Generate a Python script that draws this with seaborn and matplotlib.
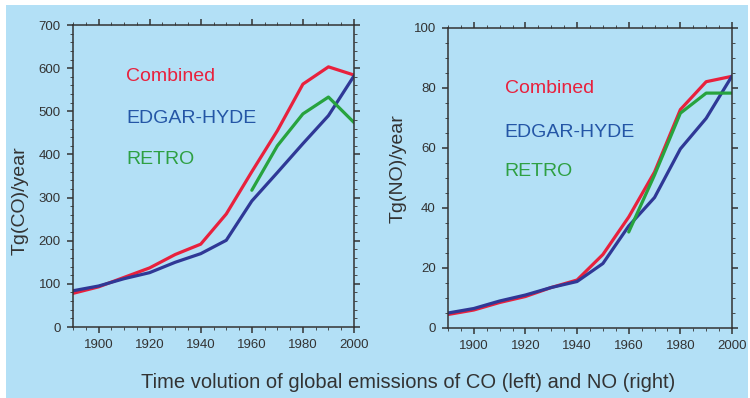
import matplotlib
matplotlib.use("Agg")
import matplotlib.pyplot as plt
from matplotlib.ticker import MultipleLocator
from matplotlib.patches import Rectangle
import pandas as pd
import seaborn as sns

# Decadal emission estimates
years = [1890, 1900, 1910, 1920, 1930, 1940, 1950, 1960, 1970, 1980, 1990, 2000]
retro_years = [1960, 1970, 1980, 1990, 2000]

co_combined = [78, 93, 115, 137, 168, 192, 262, 360, 455, 563, 603, 584]
co_edgar = [84, 95, 112, 126, 150, 170, 201, 292, 358, 425, 490, 582]
co_retro = [317, 420, 494, 533, 474]

no_combined = [4.5, 6, 8.5, 10.5, 13.5, 16, 24.5, 37, 52, 72.8, 82.1, 83.9]
no_edgar = [5, 6.5, 9, 11, 13.5, 15.5, 21.5, 34, 43.5, 59.7, 69.9, 84]
no_retro = [32, 51, 71.6, 78.3, 78.3]

series_names = ["Combined", "EDGAR-HYDE", "RETRO"]
line_colors = {"Combined": "#e8213d", "EDGAR-HYDE": "#2f3896", "RETRO": "#27a33e"}
text_colors = {"Combined": "#e8213d", "EDGAR-HYDE": "#2456a6", "RETRO": "#2ea043"}

bg = "#b3e0f6"
ink = "#333333"


def long_frame(combined, edgar, retro):
    parts = [
        pd.DataFrame({"year": years, "value": combined, "source": "Combined"}),
        pd.DataFrame({"year": years, "value": edgar, "source": "EDGAR-HYDE"}),
        pd.DataFrame({"year": retro_years, "value": retro, "source": "RETRO"}),
    ]
    return pd.concat(parts, ignore_index=True)


sns.set_style("ticks")
plt.rcParams["font.family"] = ["Liberation Sans", "DejaVu Sans"]

W, H = 750, 398
fig = plt.figure(figsize=(W / 100, H / 100), dpi=100, facecolor="white")
fig.patches.append(Rectangle((6 / W, 0), 742 / W, 393 / H, transform=fig.transFigure,
                             facecolor=bg, edgecolor="none", zorder=-10))

ax1 = fig.add_axes([73 / W, 1 - 327 / H, 281 / W, 302 / H])
ax2 = fig.add_axes([448 / W, 1 - 328 / H, 284 / W, 300 / H])

panels = [
    (ax1, long_frame(co_combined, co_edgar, co_retro), "Tg(CO)/year", 700, 100, 20,
     0.189, [0.831, 0.692, 0.556], (-0.158, 0.42)),
    (ax2, long_frame(no_combined, no_edgar, no_retro), "Tg(NO)/year", 100, 20, 5,
     0.20, [0.797, 0.653, 0.52], (-0.144, 0.53)),
]

for ax, df, ylabel, ymax, ymaj, ymin, lx, lys, lab_xy in panels:
    ax.set_facecolor(bg)
    sns.lineplot(data=df, x="year", y="value", hue="source", hue_order=series_names,
                 palette=line_colors, linewidth=2.3, legend=False, ax=ax)
    ax.set_xlim(1890, 2000)
    ax.set_ylim(0, ymax)
    ax.set_xticks(range(1900, 2001, 20))
    ax.xaxis.set_minor_locator(MultipleLocator(5))
    ax.yaxis.set_major_locator(MultipleLocator(ymaj))
    ax.yaxis.set_minor_locator(MultipleLocator(ymin))
    ax.tick_params(which="both", direction="out", top=True, right=True,
                   labeltop=False, labelright=False, colors=ink, labelsize=9.5)
    ax.tick_params(which="major", length=4.2, width=1.1, pad=4.5)
    ax.tick_params(which="minor", length=2.2, width=0.6)
    for s in ax.spines.values():
        s.set_visible(True)
        s.set_color(ink)
        s.set_linewidth(1.1)
    ax.set_xlabel("")
    ax.set_ylabel(ylabel, fontsize=14, color=ink)
    ax.yaxis.set_label_coords(*lab_xy)
    for name, ly in zip(series_names, lys):
        ax.text(lx, ly, name, transform=ax.transAxes, fontsize=14,
                color=text_colors[name], ha="left", va="center")

fig.text(408 / W, 1 - 383 / H, "Time volution of global emissions of CO (left) and NO (right)",
         ha="center", va="center", fontsize=14.5, color=ink)

fig.savefig("out.png", dpi=100, facecolor="white")
